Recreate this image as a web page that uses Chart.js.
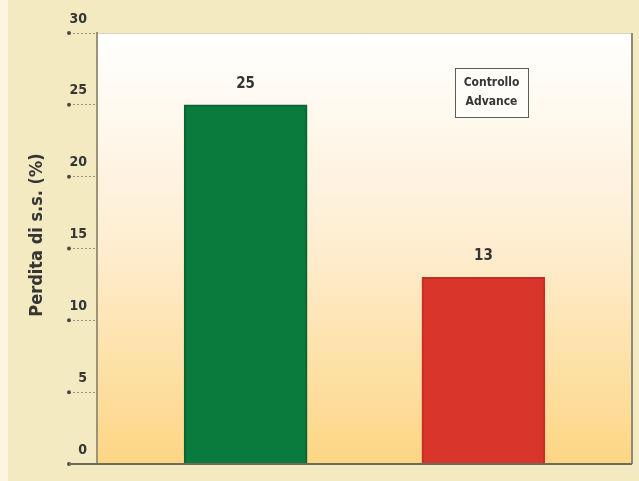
<!DOCTYPE html>
<html>
<head>
<meta charset="utf-8">
<script src="https://cdn.jsdelivr.net/npm/chart.js@4/dist/chart.umd.min.js"></script>
<style>
  html, body { margin: 0; padding: 0; background: #f5ebc2; }
  #wrap { width: 639px; height: 481px; position: relative;
          background: linear-gradient(to right, #fdf4e2 0, #fdf4e2 8px, #f4eac1 8px); }
</style>
</head>
<body>
<div id="wrap"><canvas id="c" width="639" height="481"></canvas></div>
<script>
// Loss of dry matter for the two treatments
const categories = ['Controllo', 'Advance'];
const values = [25, 13];
const barColors = ['#0b7a3d', '#da352b'];
const barEdges = ['#086532', '#c22d25'];
const yTicks = [0, 5, 10, 15, 20, 25, 30];
const yTitle = 'Perdita di s.s. (%)';

const FONT = "'DejaVu Sans Condensed', 'Liberation Sans Narrow', sans-serif";
const INK = '#353535';

// Plot background (white to warm yellow) and frame
const plotFrame = {
  id: 'plotFrame',
  beforeDraw(chart) {
    const { ctx, chartArea: a } = chart;
    ctx.save();
    const g = ctx.createLinearGradient(0, a.top, 0, a.bottom);
    g.addColorStop(0, '#ffffff');
    g.addColorStop(0.45, '#feefd6');
    g.addColorStop(1, '#fdd684');
    ctx.fillStyle = g;
    ctx.fillRect(a.left, a.top, a.right - a.left, a.bottom - a.top);
    ctx.strokeStyle = '#d9d3bd';
    ctx.lineWidth = 1;
    ctx.beginPath();
    ctx.moveTo(a.left, a.top + 0.5);
    ctx.lineTo(a.right, a.top + 0.5);
    ctx.stroke();
    ctx.strokeStyle = '#8f8a78';
    ctx.lineWidth = 2;
    ctx.beginPath();
    ctx.moveTo(a.right, a.top);
    ctx.lineTo(a.right, a.bottom);
    ctx.stroke();
    ctx.restore();
  },
  afterDraw(chart) {
    const { ctx, chartArea: a } = chart;
    const y = chart.scales.y;
    ctx.save();
    // dots at the outer end of each tick mark
    ctx.fillStyle = '#4a4a4a';
    yTicks.forEach(v => {
      const py = y.getPixelForValue(v);
      ctx.beginPath();
      ctx.arc(a.left - 28, py, 2, 0, Math.PI * 2);
      ctx.fill();
    });
    // bottom axis line
    ctx.strokeStyle = '#6e6a5c';
    ctx.lineWidth = 2;
    ctx.beginPath();
    ctx.moveTo(a.left - 28, a.bottom);
    ctx.lineTo(a.right, a.bottom);
    ctx.stroke();
    // rotated axis title
    ctx.translate(37, 235);
    ctx.rotate(-Math.PI / 2);
    ctx.fillStyle = INK;
    ctx.font = 'bold 18px ' + FONT;
    ctx.textAlign = 'center';
    ctx.textBaseline = 'middle';
    ctx.fillText(yTitle, 0, 0);
    ctx.restore();
  }
};

// Value labels above bars
const valueLabels = {
  id: 'valueLabels',
  afterDatasetsDraw(chart) {
    const { ctx } = chart;
    const meta = chart.getDatasetMeta(0);
    ctx.save();
    ctx.fillStyle = INK;
    ctx.font = 'bold 15px ' + FONT;
    ctx.textAlign = 'center';
    ctx.textBaseline = 'middle';
    meta.data.forEach((bar, i) => {
      ctx.fillText(String(values[i]), bar.x, bar.y - 21);
    });
    ctx.restore();
  }
};

// Boxed list of the treatment names
const nameBox = {
  id: 'nameBox',
  afterDraw(chart) {
    const { ctx } = chart;
    const x = 455, y = 68, w = 73, h = 49;
    ctx.save();
    ctx.fillStyle = '#fffdf8';
    ctx.fillRect(x, y, w, h);
    ctx.strokeStyle = '#5c5c5c';
    ctx.lineWidth = 1;
    ctx.strokeRect(x + 0.5, y + 0.5, w, h);
    ctx.fillStyle = INK;
    ctx.font = 'bold 12px ' + FONT;
    ctx.textAlign = 'center';
    ctx.textBaseline = 'middle';
    categories.forEach((name, i) => {
      ctx.fillText(name, x + w / 2, y + 15 + i * 19);
    });
    ctx.restore();
  }
};

new Chart(document.getElementById('c'), {
  type: 'bar',
  data: {
    datasets: [{
      data: values.map((v, i) => ({ x: i + 1, y: v })),
      backgroundColor: barColors,
      borderColor: barEdges,
      borderWidth: 2,
      borderSkipped: 'bottom',
      barThickness: 123
    }]
  },
  options: {
    responsive: false,
    animation: false,
    layout: { padding: { top: 33, right: 7, bottom: 17, left: 0 } },
    plugins: { legend: { display: false }, tooltip: { enabled: false } },
    scales: {
      x: {
        type: 'linear',
        min: 0.375,
        max: 2.625,
        offset: false,
        display: false
      },
      y: {
        min: 0,
        max: 30,
        afterFit(scale) { scale.width = 97; },
        afterBuildTicks(scale) { scale.ticks = yTicks.map(v => ({ value: v })); },
        grid: {
          drawOnChartArea: false,
          tickLength: 28,
          color: '#9a947c',
          tickBorderDash: [2, 2]
        },
        border: { display: true, color: '#9b9478', width: 2 },
        ticks: {
          padding: -18,
          labelOffset: -14,
          color: INK,
          font: { family: FONT, size: 14, weight: 'bold' }
        }
      }
    }
  },
  plugins: [plotFrame, valueLabels, nameBox]
});
</script>
</body>
</html>
